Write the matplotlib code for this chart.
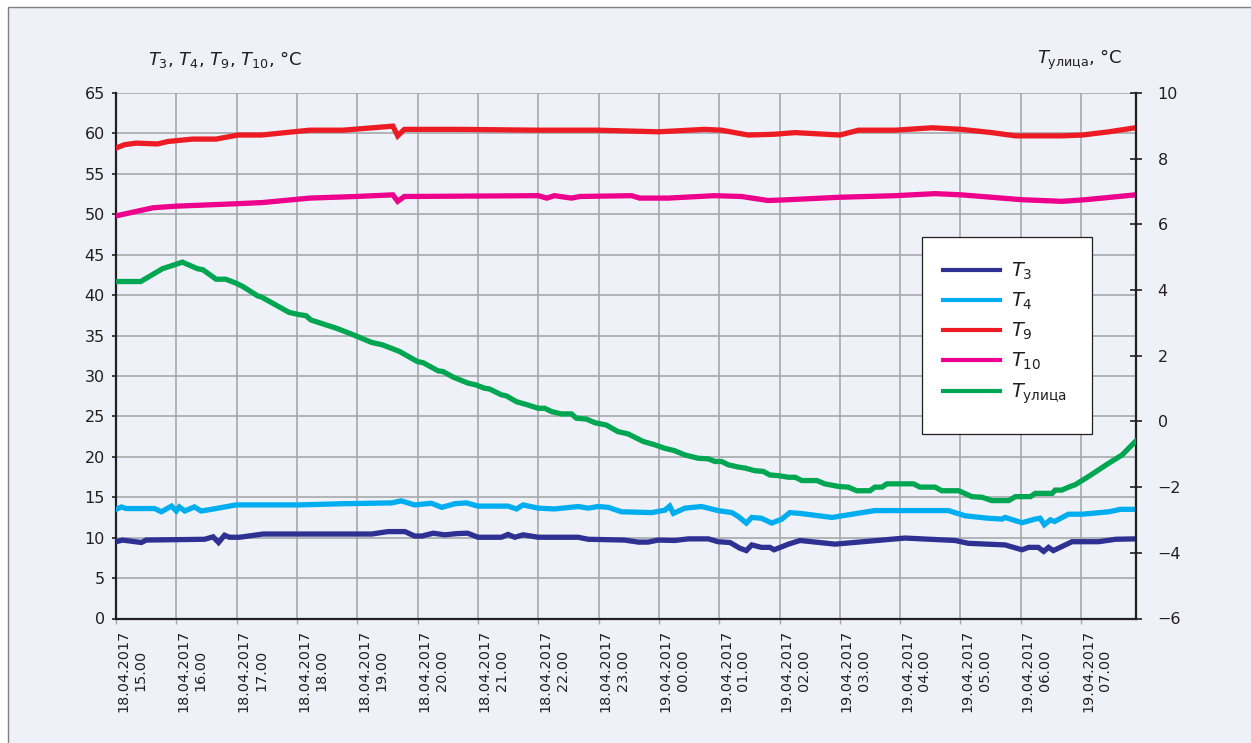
import matplotlib
matplotlib.use('Agg')
import matplotlib.pyplot as plt
import matplotlib.transforms as mtransforms
from matplotlib.patches import Rectangle
from matplotlib.lines import Line2D

plt.rcParams['font.family'] = ['DejaVu Sans']
plt.rcParams['mathtext.fontset'] = 'dejavusans'

# ---- data (x = hours after 18.04.2017 15:00) ----
tick_hours = list(range(17))
tick_labels = ['18.04.2017\n15.00', '18.04.2017\n16.00', '18.04.2017\n17.00', '18.04.2017\n18.00',
               '18.04.2017\n19.00', '18.04.2017\n20.00', '18.04.2017\n21.00', '18.04.2017\n22.00',
               '18.04.2017\n23.00', '19.04.2017\n00.00', '19.04.2017\n01.00', '19.04.2017\n02.00',
               '19.04.2017\n03.00', '19.04.2017\n04.00', '19.04.2017\n05.00', '19.04.2017\n06.00',
               '19.04.2017\n07.00']

t3_time = [0, 0.11, 0.42, 0.50, 1.47, 1.61, 1.70, 1.80, 1.88, 2.05, 2.44, 4.24, 4.51, 4.79, 4.95, 5.07,
           5.26, 5.45, 5.65, 5.83, 6.00, 6.39, 6.50, 6.61, 6.75, 7.00, 7.66, 7.83, 8.43, 8.66, 8.82, 8.99,
           9.26, 9.49, 9.82, 9.98, 10.18, 10.34, 10.45, 10.54, 10.70, 10.84, 10.91, 11.15, 11.34, 11.92,
           13.08, 13.91, 14.13, 14.74, 15.02, 15.13, 15.29, 15.38, 15.46, 15.54, 15.85, 16.29, 16.57, 16.90]
t3_vals = [9.5, 9.7, 9.4, 9.7, 9.8, 10.1, 9.4, 10.3, 10.05, 10.05, 10.45, 10.45, 10.75, 10.75, 10.2, 10.2,
           10.55, 10.35, 10.5, 10.55, 10.05, 10.05, 10.4, 10.05, 10.35, 10.05, 10.05, 9.8, 9.7, 9.45, 9.45, 9.7,
           9.65, 9.85, 9.85, 9.5, 9.4, 8.7, 8.4, 9.1, 8.8, 8.8, 8.5, 9.2, 9.65, 9.2,
           9.95, 9.65, 9.3, 9.1, 8.5, 8.8, 8.8, 8.3, 8.8, 8.4, 9.5, 9.5, 9.8, 9.85]

t4_time = [0, 0.09, 0.17, 0.64, 0.75, 0.92, 1.00, 1.05, 1.14, 1.30, 1.41, 1.58, 1.99, 3.02, 3.79, 4.57,
           4.73, 4.95, 5.23, 5.40, 5.62, 5.81, 6.00, 6.50, 6.64, 6.75, 7.00, 7.27, 7.66, 7.83, 7.99, 8.16,
           8.38, 8.88, 9.10, 9.18, 9.24, 9.43, 9.71, 9.98, 10.21, 10.32, 10.45, 10.54, 10.70, 10.87, 11.04,
           11.17, 11.34, 11.87, 12.58, 13.80, 14.08, 14.46, 14.69, 14.74, 15.02, 15.24, 15.32, 15.39, 15.49,
           15.56, 15.79, 16.02, 16.46, 16.65, 16.90]
t4_vals = [13.5, 13.8, 13.6, 13.6, 13.2, 13.9, 13.3, 13.8, 13.3, 13.8, 13.3, 13.5, 14.05, 14.05, 14.2, 14.3,
           14.55, 14.05, 14.25, 13.75, 14.2, 14.3, 13.9, 13.9, 13.55, 14.05, 13.65, 13.55, 13.85, 13.65, 13.85, 13.75,
           13.2, 13.1, 13.4, 13.9, 13.0, 13.65, 13.85, 13.35, 13.1, 12.6, 11.8, 12.5, 12.4, 11.8, 12.3,
           13.1, 13.0, 12.5, 13.35, 13.35, 12.7, 12.4, 12.3, 12.5, 11.85, 12.3, 12.4, 11.6, 12.2,
           12.0, 12.9, 12.9, 13.2, 13.5, 13.5]

t9_time = [0, 0.14, 0.33, 0.69, 0.86, 1.27, 1.66, 2.02, 2.41, 3.21, 3.76, 4.59, 4.67, 4.78, 5.70, 7.00,
           7.99, 8.99, 9.76, 10.04, 10.48, 10.92, 11.26, 12.00, 12.31, 12.92, 13.53, 14.02, 14.52, 14.91,
           15.68, 16.02, 16.46, 16.90]
t9_vals = [58.2, 58.6, 58.8, 58.7, 59.0, 59.3, 59.3, 59.8, 59.8, 60.4, 60.4, 60.9, 59.7, 60.5, 60.5, 60.4,
           60.4, 60.2, 60.5, 60.4, 59.8, 59.9, 60.1, 59.8, 60.4, 60.4, 60.7, 60.5, 60.1, 59.7,
           59.7, 59.8, 60.2, 60.7]

t10_time = [0, 0.61, 0.99, 1.99, 2.43, 3.21, 3.98, 4.59, 4.67, 4.78, 7.00, 7.14, 7.27, 7.55, 7.69, 8.55,
            8.68, 9.15, 9.92, 10.37, 10.81, 11.15, 11.98, 12.92, 13.58, 14.02, 15.02, 15.68, 16.07, 16.90]
t10_vals = [49.8, 50.8, 51.0, 51.3, 51.45, 52.0, 52.2, 52.4, 51.6, 52.2, 52.3, 52.0, 52.3, 52.0, 52.2, 52.3,
            52.0, 52.0, 52.3, 52.2, 51.7, 51.8, 52.1, 52.3, 52.55, 52.4, 51.8, 51.6, 51.8, 52.4]

out_time = [0, 0.41, 0.77, 0.97, 1.10, 1.35, 1.44, 1.66, 1.82, 1.99, 2.10, 2.35, 2.41, 2.87, 3.04, 3.15,
            3.23, 3.48, 3.65, 3.82, 4.01, 4.23, 4.42, 4.59, 4.70, 5.00, 5.09, 5.34, 5.42, 5.59, 5.83, 5.97,
            6.11, 6.19, 6.39, 6.47, 6.64, 6.83, 7.00, 7.11, 7.22, 7.38, 7.55, 7.63, 7.80, 7.94, 8.13, 8.32,
            8.49, 8.74, 8.93, 9.10, 9.26, 9.43, 9.65, 9.82, 9.93, 10.04, 10.15, 10.32, 10.43, 10.59, 10.73,
            10.84, 10.98, 11.15, 11.26, 11.37, 11.62, 11.75, 11.98, 12.14, 12.28, 12.50, 12.58, 12.70, 12.78,
            13.22, 13.33, 13.58, 13.69, 13.97, 14.19, 14.36, 14.52, 14.80, 14.91, 15.16, 15.24, 15.52, 15.57,
            15.68, 15.82, 15.90, 16.12, 16.46, 16.68, 16.90]
out_vals = [4.26, 4.26, 4.65, 4.77, 4.85, 4.65, 4.62, 4.33, 4.33, 4.21, 4.11, 3.82, 3.79, 3.32, 3.25, 3.22,
            3.09, 2.94, 2.84, 2.72, 2.58, 2.41, 2.33, 2.21, 2.13, 1.82, 1.79, 1.54, 1.52, 1.35, 1.17, 1.11,
            1.01, 0.99, 0.81, 0.78, 0.60, 0.50, 0.40, 0.40, 0.30, 0.23, 0.23, 0.10, 0.07, -0.04, -0.11, -0.31,
            -0.38, -0.61, -0.71, -0.82, -0.89, -1.02, -1.12, -1.14, -1.22, -1.22, -1.32, -1.39, -1.42, -1.50, -1.52,
            -1.63, -1.65, -1.70, -1.70, -1.80, -1.80, -1.90, -1.98, -2.00, -2.11, -2.11, -2.00, -2.00, -1.90,
            -1.90, -2.00, -2.00, -2.11, -2.11, -2.29, -2.31, -2.41, -2.41, -2.29, -2.29, -2.19, -2.19, -2.09,
            -2.09, -1.98, -1.93, -1.68, -1.27, -1.02, -0.61]

series_labels = [r'$T_3$', r'$T_4$', r'$T_9$', r'$T_{10}$', r'$T_{\mathrm{улица}}$']
colors = ['#2e3192', '#00aeef', '#ed1c24', '#ec008c', '#00a651']

# ---- figure ----
W, H = 1251, 743
fig = plt.figure(figsize=(W / 100, H / 100), dpi=100, facecolor='white')
panel = Rectangle((8 / W, -0.05), 1.1, 1 - 7 / H + 0.05, transform=fig.transFigure,
                  facecolor='#eef1f8', edgecolor='#808080', linewidth=1.0, zorder=-10)
fig.patches.append(panel)

ax = fig.add_axes([116 / W, 1 - 618.5 / H, (1136 - 116) / W, (618.5 - 93) / H])
ax.set_facecolor('none')
ax2 = ax.twinx()
ax2.set_facecolor('none')

ink = '#231f20'
grid_c = '#a7a9ac'
lw = 3.8
ax.plot(t3_time, t3_vals, color=colors[0], lw=lw, solid_joinstyle='miter', zorder=3)
ax.plot(t4_time, t4_vals, color=colors[1], lw=lw, solid_joinstyle='miter', zorder=3)
ax.plot(t9_time, t9_vals, color=colors[2], lw=lw, solid_joinstyle='miter', zorder=3)
ax.plot(t10_time, t10_vals, color=colors[3], lw=lw, solid_joinstyle='miter', zorder=3)
ax2.plot(out_time, out_vals, color=colors[4], lw=lw, solid_joinstyle='miter', zorder=3)

ax.set_xlim(0, 16.91)
ax.set_ylim(0, 65)
ax2.set_ylim(-6, 10)
ax.set_yticks(range(0, 66, 5))
ax2.set_yticks(range(-6, 11, 2))
ax.set_xticks(tick_hours)
ax.set_xticklabels(tick_labels, rotation=90, fontsize=10.4, color=ink, multialignment='center',
                   linespacing=1.3)
shift = mtransforms.ScaledTranslation(3 / 100, 0, fig.dpi_scale_trans)
for lab in ax.get_xticklabels():
    lab.set_horizontalalignment('left')
    lab.set_transform(lab.get_transform() + shift)

ax.grid(True, color=grid_c, lw=1.2)
ax.set_axisbelow(True)

ax.spines['top'].set_visible(False)
ax2.spines['top'].set_visible(False)
ax.spines['right'].set_visible(False)
ax2.spines['left'].set_visible(False)
ax2.spines['bottom'].set_visible(False)
for sp in [ax.spines['left'], ax.spines['bottom'], ax2.spines['right']]:
    sp.set_color(ink)
    sp.set_linewidth(1.6)

ax.tick_params(axis='x', length=3.5, width=1.0, color=grid_c, pad=4.5)
ax.tick_params(axis='y', length=3, width=1.2, color=ink, labelsize=11.5, labelcolor=ink, pad=5)
ax2.tick_params(axis='y', direction='inout', length=9, width=1.2, color=ink, labelsize=11.5,
                labelcolor=ink, pad=11)

fig.text(148 / W, 1 - 60 / H, r'$T_3$, $T_4$, $T_9$, $T_{10}$, °C', fontsize=13, color=ink,
         ha='left', va='center')
fig.text(1122 / W, 1 - 60 / H, r'$T_{\mathrm{улица}}$, °C', fontsize=13, color=ink,
         ha='right', va='center')

# legend frame drawn as a box, legend entries placed inside it
box = Rectangle((922 / W, 1 - 434 / H), 170 / W, 197 / H, transform=fig.transFigure,
                facecolor='white', edgecolor=ink, linewidth=0.9, zorder=9)
ax2.add_patch(box)
handles = [Line2D([], [], color=c, lw=3.0) for c in colors]
leg = ax2.legend(handles, series_labels, loc='upper left', bbox_to_anchor=(922 / W, 1 - 239 / H),
                 bbox_transform=fig.transFigure, borderaxespad=0, frameon=False,
                 borderpad=1.1, handlelength=2.9, handletextpad=0.6, labelspacing=0.46, fontsize=14)
for t in leg.get_texts():
    t.set_color(ink)
leg.set_zorder(10)

fig.savefig('out.png', dpi=100, facecolor='white')
